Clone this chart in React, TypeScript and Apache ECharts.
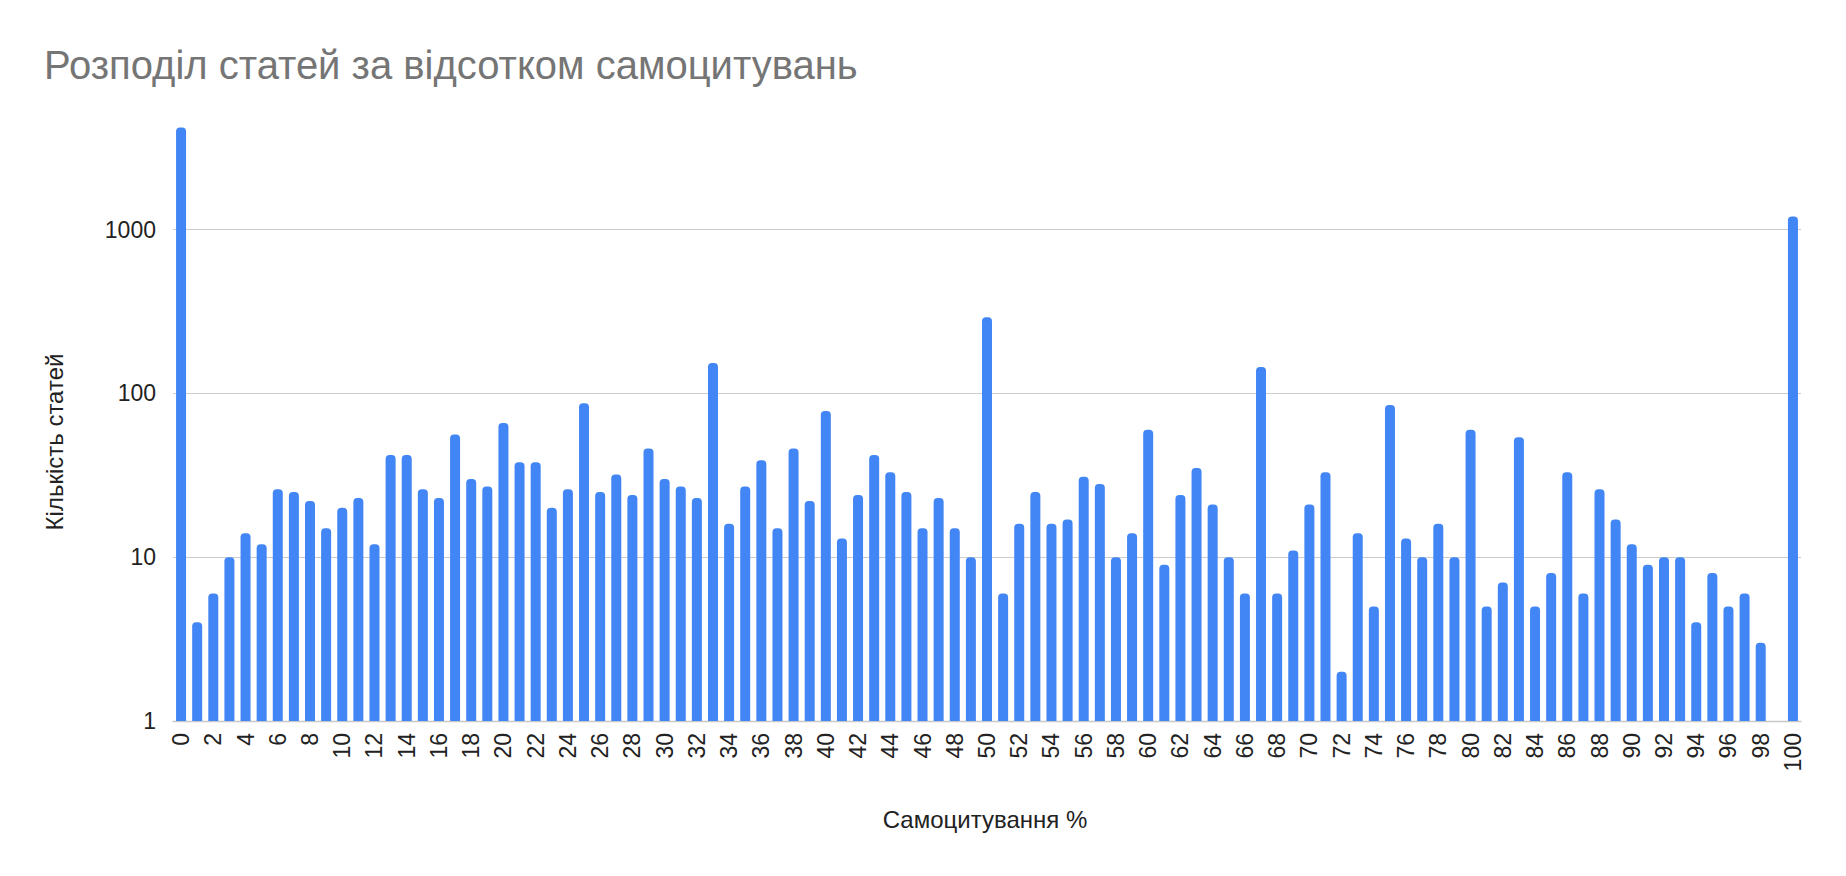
import React, { useEffect, useRef } from "react";
import * as echarts from "echarts";

const titleText = "Розподіл статей за відсотком самоцитувань";
const xAxisTitle = "Самоцитування %";
const yAxisTitle = "Кількість статей";

const categories = [
  "0", "1", "2", "3", "4", "5", "6", "7", "8", "9",
  "10", "11", "12", "13", "14", "15", "16", "17", "18", "19",
  "20", "21", "22", "23", "24", "25", "26", "27", "28", "29",
  "30", "31", "32", "33", "34", "35", "36", "37", "38", "39",
  "40", "41", "42", "43", "44", "45", "46", "47", "48", "49",
  "50", "51", "52", "53", "54", "55", "56", "57", "58", "59",
  "60", "61", "62", "63", "64", "65", "66", "67", "68", "69",
  "70", "71", "72", "73", "74", "75", "76", "77", "78", "79",
  "80", "81", "82", "83", "84", "85", "86", "87", "88", "89",
  "90", "91", "92", "93", "94", "95", "96", "97", "98", "99",
  "100",
];

const articleCounts: (number | null)[] = [
  4200, 4, 6, 10, 14, 12, 26, 25, 22, 15,
  20, 23, 12, 42, 42, 26, 23, 56, 30, 27,
  66, 38, 38, 20, 26, 87, 25, 32, 24, 46,
  30, 27, 23, 153, 16, 27, 39, 15, 46, 22,
  78, 13, 24, 42, 33, 25, 15, 23, 15, 10,
  291, 6, 16, 25, 16, 17, 31, 28, 10, 14,
  60, 9, 24, 35, 21, 10, 6, 145, 6, 11,
  21, 33, 2, 14, 5, 85, 13, 10, 16, 10,
  60, 5, 7, 54, 5, 8, 33, 6, 26, 17,
  12, 9, 10, 10, 4, 8, 5, 6, 3, null,
  1200,
];

const FONT = '"Liberation Sans", Arial, sans-serif';

export default function App() {
  const ref = useRef<HTMLDivElement>(null);

  useEffect(() => {
    document.body.style.margin = "0";
    if (!ref.current) return;
    const chart = echarts.init(ref.current, undefined, { renderer: "svg" });
    chart.setOption({
      animation: false,
      backgroundColor: "#ffffff",
      textStyle: { fontFamily: FONT },
      title: {
        text: titleText,
        left: 39,
        top: 40,
        textStyle: {
          fontFamily: FONT,
          fontSize: 40,
          fontWeight: "normal",
          color: "#757575",
        },
      },
      grid: { left: 173, right: 45, top: 115, bottom: 155, containLabel: false },
      xAxis: {
        type: "category",
        data: categories,
        boundaryGap: true,
        axisTick: { show: false },
        axisLine: { show: true, lineStyle: { color: "#c8c8c8", width: 1.3 } },
        axisLabel: {
          interval: 1,
          rotate: 90,
          margin: 12,
          fontSize: 23,
          color: "#222222",
          fontFamily: FONT,
        },
        splitLine: { show: false },
      },
      yAxis: {
        type: "log",
        logBase: 10,
        min: 1,
        max: 5000,
        axisLine: { show: false },
        axisTick: { show: false },
        axisLabel: {
          fontSize: 23,
          color: "#222222",
          margin: 17,
          fontFamily: FONT,
          showMaxLabel: false,
          showMinLabel: true,
          formatter: (v: number) => String(Math.round(v)),
        },
        splitLine: {
          show: true,
          showMaxLine: false,
          lineStyle: { color: "#cccccc", width: 1 },
        },
        minorTick: { show: false },
      },
      graphic: [
        {
          type: "text",
          x: 985,
          y: 819,
          style: {
            text: xAxisTitle,
            fontSize: 24,
            fontFamily: FONT,
            fill: "#222222",
            textAlign: "center",
            textVerticalAlign: "middle",
          },
        },
        {
          type: "text",
          x: 54,
          y: 442,
          rotation: Math.PI / 2,
          style: {
            text: yAxisTitle,
            fontSize: 24,
            fontFamily: FONT,
            fill: "#222222",
            textAlign: "center",
            textVerticalAlign: "middle",
          },
        },
      ],
      series: [
        {
          type: "bar",
          data: articleCounts,
          barWidth: 10,
          itemStyle: { color: "#4285f4", borderRadius: [4, 4, 0, 0] },
        },
      ],
    });
    return () => chart.dispose();
  }, []);

  return (
    <div
      ref={ref}
      style={{ position: "fixed", left: 0, top: 0, width: 1846, height: 876 }}
    />
  );
}
